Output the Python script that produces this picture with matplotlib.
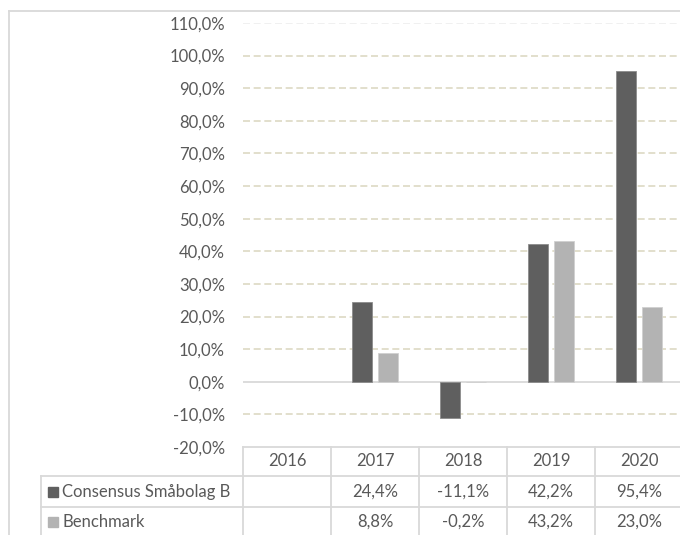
import matplotlib.pyplot as plt
import matplotlib.transforms as mtransforms
from matplotlib.lines import Line2D
from matplotlib.patches import Rectangle
import numpy as np

plt.rcParams['font.family'] = ['Lato', 'DejaVu Sans']

# Data
years = ['2016', '2017', '2018', '2019', '2020']
consensus = [np.nan, 24.4, -11.1, 42.2, 95.4]
benchmark = [np.nan, 8.8, -0.2, 43.2, 23.0]
series_names = ['Consensus Småbolag B', 'Benchmark']
yticks = np.arange(-20, 111, 10)

dark = '#5f5f5f'
light = '#b3b3b3'
grid_col = '#ddd9c3'
line_col = '#d9d9d9'
txt_col = '#595959'
fs = 12

W, H = 680, 535
fig = plt.figure(figsize=(W / 100, H / 100), dpi=100)

def fy(py):
    # pixel from top -> figure fraction
    return 1 - py / H

def fx(px):
    return px / W

ax = fig.add_axes([fx(243), fy(447), fx(683 - 243), fy(23) - fy(447)])
x = np.arange(len(years))
bw = 0.225
ax.bar(x - 0.145, consensus, bw, color=dark, edgecolor='#8c8c8c', linewidth=0.6, zorder=3)
ax.bar(x + 0.145, benchmark, bw, color=light, edgecolor='#d0d0d0', linewidth=0.6, zorder=3)

ax.set_xlim(-0.5, len(years) - 0.5)
ax.set_ylim(-20, 110)
ax.set_yticks(yticks)
ax.set_yticklabels(['{:.1f}%'.format(v).replace('.', ',') for v in yticks],
                   fontsize=fs, color=txt_col)
ax.tick_params(axis='y', length=0, pad=13)
ax.set_xticks([])
for s in ax.spines.values():
    s.set_visible(False)

# gridlines
for v in yticks:
    if v == -20:
        continue
    if v == 0:
        ax.axhline(0, color=line_col, lw=1.3, zorder=2)
    elif v == 110:
        ax.axhline(v, color='#eeeeee', lw=1.2, dashes=(4.2, 2.2), zorder=1)
    else:
        ax.axhline(v, color=grid_col, lw=1.2, dashes=(4.2, 2.2), zorder=1)

# data table
trans = mtransforms.blended_transform_factory(ax.transData, fig.transFigure)
row_tops = [447, 476, 507, 538]
fig.add_artist(Line2D([fx(243), 1.0], [fy(447)] * 2, color=line_col, lw=1.3))
for py in row_tops[1:]:
    fig.add_artist(Line2D([fx(41), 1.0], [fy(py)] * 2, color=line_col, lw=1.3))
fig.add_artist(Line2D([fx(41), fx(41)], [fy(476), 0], color=line_col, lw=1.3))
for b in np.arange(-0.5, len(years), 1.0):
    fig.add_artist(Line2D([b, b], [fy(447), 0], color=line_col, lw=1.3, transform=trans))

for i, yr in enumerate(years):
    fig.text(i, fy(461.5), yr, transform=trans, ha='center', va='center',
             fontsize=fs, color=txt_col)
for vals, py in [(consensus, 491.5), (benchmark, 522)]:
    for i, v in enumerate(vals):
        if np.isnan(v):
            continue
        fig.text(i, fy(py), '{:.1f}%'.format(v).replace('.', ','), transform=trans,
                 ha='center', va='center', fontsize=fs, color=txt_col)

for name, col, py in [(series_names[0], dark, 491.5), (series_names[1], light, 522)]:
    fig.add_artist(Rectangle((fx(48), fy(py + 5)), fx(10), fy(py - 5) - fy(py + 5),
                             color=col, transform=fig.transFigure))
    fig.text(fx(62), fy(py), name, ha='left', va='center', fontsize=fs, color=txt_col)

# outer chart border
fig.add_artist(Line2D([fx(9), fx(9)], [fy(11), 0], color=line_col, lw=1.3))
fig.add_artist(Line2D([fx(9), 1.0], [fy(11), fy(11)], color=line_col, lw=1.3))

fig.savefig('out.png', dpi=100, facecolor='white')
